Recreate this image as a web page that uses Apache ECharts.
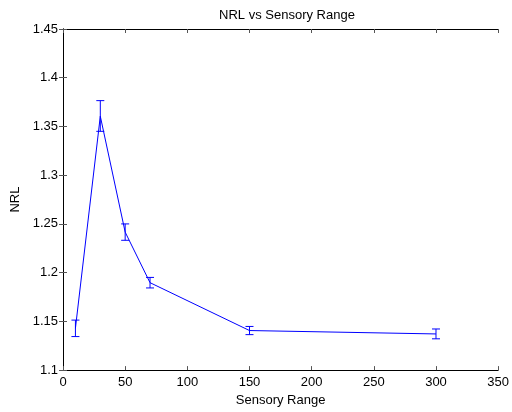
<!DOCTYPE html>
<html>
<head>
<meta charset="utf-8">
<script src="https://cdn.jsdelivr.net/npm/echarts@6/dist/echarts.min.js"></script>
<style>html,body{margin:0;padding:0;background:#fff;}#c{width:512px;height:412px;}</style>
</head>
<body>
<div id="c"></div>
<script>
var sensoryRange = [10, 30, 50, 70, 150, 300];
var nrlMean = [1.143, 1.3605, 1.2416, 1.1897, 1.1406, 1.1371];
var nrlLow  = [1.1344, 1.345, 1.2332, 1.1843, 1.1364, 1.1321];
var nrlHigh = [1.1513, 1.3765, 1.250, 1.1951, 1.1448, 1.1422];

var FONT = 'Liberation Sans, Arial, Helvetica, sans-serif';
var lineData = sensoryRange.map(function (x, i) { return [x, nrlMean[i]]; });
var errData = sensoryRange.map(function (x, i) { return [x, nrlLow[i], nrlHigh[i]]; });

var chart = echarts.init(document.getElementById('c'), null, {renderer: 'canvas'});
var axisCommon = {
  axisLine: {show: true, lineStyle: {color: '#000', width: 1}},
  axisTick: {show: true, inside: true, length: 4, lineStyle: {color: '#555'}},
  splitLine: {show: false}
};
chart.setOption({
  animation: false,
  backgroundColor: '#fff',
  title: {
    text: 'NRL vs Sensory Range', left: 282, top: 4, textAlign: 'center',
    textStyle: {fontFamily: FONT, fontSize: 13, fontWeight: 'normal', color: '#000'}
  },
  grid: {left: 63, right: 11, top: 29, bottom: 37},
  xAxis: [
    Object.assign({
      type: 'value', min: 0, max: 350, interval: 50,
      name: 'Sensory Range', nameLocation: 'middle', nameGap: 23,
      nameTextStyle: {fontFamily: FONT, fontSize: 13, color: '#000'},
      axisLabel: {fontFamily: FONT, fontSize: 13, color: '#000', margin: 6}
    }, axisCommon),
    Object.assign({
      type: 'value', min: 0, max: 350, interval: 50, position: 'top',
      axisLabel: {show: false}
    }, axisCommon)
  ],
  yAxis: [
    Object.assign({
      type: 'value', min: 1.1, max: 1.45, interval: 0.05,
      name: 'NRL', nameLocation: 'middle', nameGap: 36,
      nameTextStyle: {fontFamily: FONT, fontSize: 13, color: '#000'},
      axisLabel: {fontFamily: FONT, fontSize: 13, color: '#000', margin: 5,
        formatter: function (v) { return String(Math.round(v * 100) / 100); }}
    }, axisCommon),
    Object.assign({
      type: 'value', min: 1.1, max: 1.45, interval: 0.05, position: 'right',
      axisLabel: {show: false}
    }, axisCommon)
  ],
  series: [
    {
      type: 'line', data: lineData, symbol: 'none',
      lineStyle: {color: '#0000ff', width: 1}, xAxisIndex: 0, yAxisIndex: 0
    },
    {
      type: 'custom', data: errData, xAxisIndex: 0, yAxisIndex: 0,
      renderItem: function (params, api) {
        var x = api.value(0), lo = api.value(1), hi = api.value(2);
        var pL = api.coord([x, lo]), pH = api.coord([x, hi]);
        var hw = 4;
        var st = {stroke: '#0000ff', lineWidth: 1};
        return {type: 'group', children: [
          {type: 'line', shape: {x1: pH[0], y1: pH[1], x2: pL[0], y2: pL[1]}, style: st},
          {type: 'line', shape: {x1: pH[0] - hw, y1: pH[1], x2: pH[0] + hw, y2: pH[1]}, style: st},
          {type: 'line', shape: {x1: pL[0] - hw, y1: pL[1], x2: pL[0] + hw, y2: pL[1]}, style: st}
        ]};
      }
    }
  ]
});
</script>
</body>
</html>
